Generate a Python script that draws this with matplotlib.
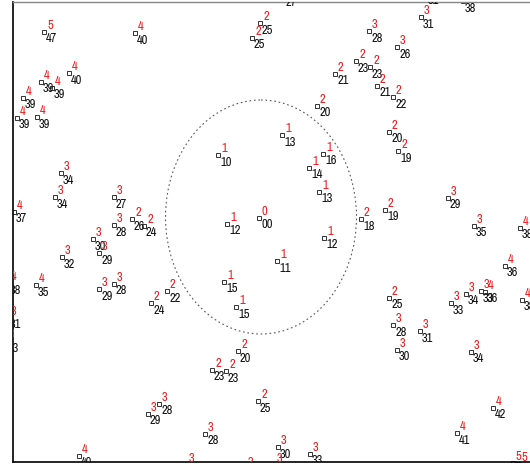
import matplotlib
matplotlib.use("Agg")
import matplotlib.pyplot as plt
import matplotlib.transforms as mtransforms
from matplotlib import font_manager
from matplotlib.patches import Ellipse

# point positions (chart units, y grows downward) with distance and ring labels
xs = [44, 135, 69, 41, 52, 23, 17, 37, 283, 260, 252, 335, 317, 282, 218, 323,
      426, 463, 421, 369, 397, 356, 370, 377, 393, 389, 398, 61, 55, 14, 114,
      114, 132, 144, 93, 99, 62, 36, 8, 99, 114, 167, 151, 309, 319, 259, 227,
      324, 277, 224, 236, 361, 385, 448, 474, 520, 505, 389, 451, 466, 481, 485,
      522, 8, 6, 148, 159, 79, 238, 212, 226, 258, 205, 278, 310, 186, 245, 274,
      393, 420, 397, 471, 493, 457, 513, 518]
ys = [32, 33, 73, 82, 88, 98, 118, 117, -4, 23, 38, 74, 106, 135, 155, 154,
      -6, 1, 17, 31, 47, 61, 67, 86, 97, 132, 151, 173, 197, 212, 197,
      225, 219, 226, 239, 253, 257, 285, 283, 289, 284, 291, 303, 168, 192, 218, 224,
      238, 261, 282, 307, 219, 210, 198, 226, 228, 266, 298, 303, 294, 291, 292,
      300, 318, 341, 414, 404, 456, 351, 370, 371, 401, 434, 447, 454, 465, 469, 465,
      325, 331, 350, 352, 408, 433, 463, 464]
dist = ['47', '40', '40', '39', '39', '39', '39', '39', '27', '25', '25', '21', '20', '13', '10', '16',
        '31', '38', '31', '28', '26', '23', '23', '21', '22', '20', '19', '34', '34', '37', '27',
        '28', '26', '24', '30', '29', '32', '35', '38', '29', '28', '22', '24', '14', '13', '00', '12',
        '12', '11', '15', '15', '18', '19', '29', '35', '38', '36', '25', '33', '34', '33', '36',
        '38', '31', '33', '29', '28', '40', '20', '23', '23', '25', '28', '30', '33', '29', '31', '30',
        '28', '31', '30', '34', '42', '41', '45', '46']
ring = ['5', '4', '4', '4', '4', '4', '4', '4', '3', '2', '2', '2', '2', '1', '1', '1',
        '3', '4', '3', '3', '3', '2', '2', '2', '2', '2', '2', '3', '3', '4', '3',
        '3', '2', '2', '3', '3', '3', '4', '4', '3', '3', '2', '2', '1', '1', '0', '1',
        '1', '1', '1', '1', '2', '2', '3', '3', '4', '4', '2', '3', '3', '3', '4',
        '4', '3', '3', '3', '3', '4', '2', '2', '2', '2', '3', '3', '3', '3', '3', '3',
        '3', '3', '3', '3', '4', '4', '5', '5']

center = (261, 217)
zone_w, zone_h = 191, 234

# look for a narrow face; otherwise Roboto (narrower digits than DejaVu)
def is_narrow(f):
    n = f.name.lower()
    st = f.stretch
    narrow_st = (isinstance(st, str) and 'condensed' in st) or \
                (isinstance(st, (int, float)) and st < 500)
    return ('narrow' in n or 'condensed' in n or narrow_st) and \
        f.style == 'normal' and f.weight in (400, 'normal', 'regular')

fonts = font_manager.fontManager.ttflist
narrow = [f for f in fonts if is_narrow(f)]
narrow.sort(key=lambda f: (f.name != 'Liberation Sans Narrow', f.name))
if narrow:
    fprop = font_manager.FontProperties(fname=narrow[0].fname, size=9)
else:
    fprop = font_manager.FontProperties(family=['Roboto', 'DejaVu Sans'], size=7.5)

fig = plt.figure(figsize=(5.30, 4.67), dpi=100)
ax = fig.add_axes([13 / 530, 5 / 467, 527 / 530, 460 / 467])
ax.set_xlim(13, 540)
ax.set_ylim(462, 2)
ax.set_xticks([])
ax.set_yticks([])
ax.spines['right'].set_visible(False)
ax.spines['top'].set_color('#888888')
ax.spines['top'].set_linewidth(1.0)
ax.spines['left'].set_linewidth(1.2)
ax.spines['bottom'].set_linewidth(1.2)

ax.add_patch(Ellipse(center, zone_w, zone_h, fill=False, ec='#555555',
                     lw=0.8, ls=(0, (1.5, 2.5))))

ax.plot(xs, ys, ls='none', marker='s', ms=2.4, mfc='white', mec='#333333', mew=0.7)

below = mtransforms.offset_copy(ax.transData, fig=fig, x=2, y=-1.5, units='dots')
above = mtransforms.offset_copy(ax.transData, fig=fig, x=3, y=1, units='dots')
for x, y, d, r in zip(xs, ys, dist, ring):
    ax.text(x, y, d, transform=below, ha='left', va='top',
            color='#111111', clip_on=True, fontproperties=fprop)
    ax.text(x, y, r, transform=above, ha='left', va='bottom',
            color='#ee1c1c', clip_on=True, fontproperties=fprop)

fig.savefig('out.png', dpi=100)
